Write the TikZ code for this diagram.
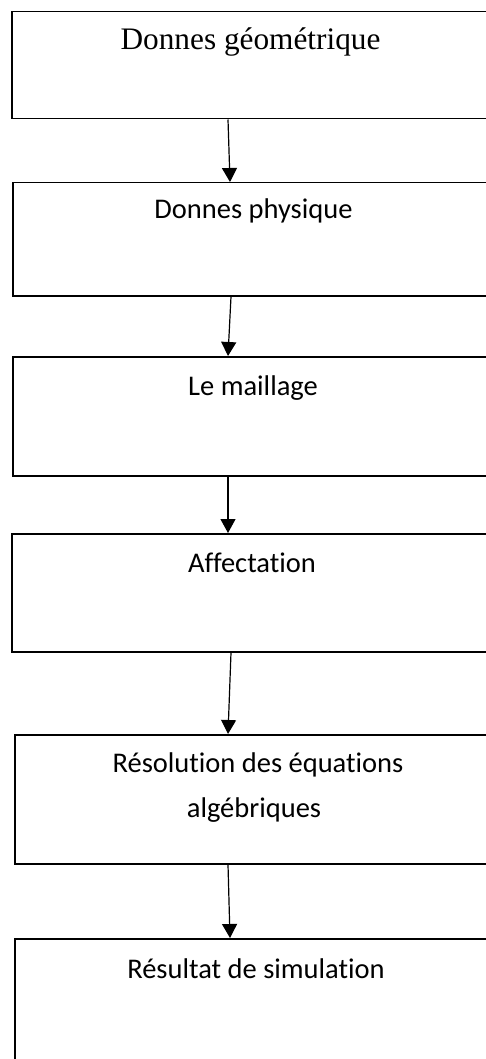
\documentclass[tikz,border=0pt]{standalone}
\usepackage{fontspec}
\setmainfont[Ligatures=NoCommon]{Liberation Serif}
\newfontfamily\calibrifont[Ligatures=NoCommon]{Carlito}
\usetikzlibrary{arrows.meta,calc}
\begin{document}
\begin{tikzpicture}[x=1pt,y=1pt,
  stepbox/.style={draw, line width=1.5pt, rectangle, anchor=north west, inner sep=0pt, minimum width=530pt},
  lbl/.style={anchor=base, inner sep=0pt, font=\calibrifont\fontsize{28.5}{34}\selectfont},
  serlbl/.style={anchor=base, inner sep=0pt, font=\fontsize{31.3}{37}\selectfont},
  arr/.style={line width=1.2pt, -{Triangle[length=14pt,width=15pt]}}]
\useasboundingbox (0,0) rectangle (486,-1059);
\clip (0,0) rectangle (486,-1059);
% boxes
\node[stepbox, minimum height=107pt] (b1) at (11,-11) {};
\node[stepbox, minimum height=113pt] (b2) at (12,-182) {};
\node[stepbox, minimum height=119pt] (b3) at (12,-356) {};
\node[stepbox, minimum height=118pt] (b4) at (11,-533) {};
\node[stepbox, minimum height=129pt] (b5) at (14,-734) {};
\node[stepbox, minimum height=140pt] (b6) at (14,-938) {};
% labels
\node[serlbl] (t1) at (250.5,-50) {Donnes géométrique};
\node[lbl] (t2) at (253.5,-219) {Donnes physique};
\node[lbl] (t3) at (253,-395) {Le maillage};
\node[lbl] (t4) at (252,-572) {Affectation};
\node[lbl] (t5a) at (258,-772) {Résolution des équations};
\node[lbl] (t5b) at (254,-817) {algébriques};
\node[lbl] (t6) at (256,-978) {Résultat de simulation};
% connectors
\draw[arr] ($(b1.south west)+(217,0)$) -- ($(b2.north west)+(218,0)$);
\draw[arr] ($(b2.south west)+(219,0)$) -- ($(b3.north west)+(216,0)$);
\draw[arr] ($(b3.south west)+(216,0)$) -- ($(b4.north west)+(217,0)$);
\draw[arr] ($(b4.south west)+(220,0)$) -- ($(b5.north west)+(214,0)$);
\draw[arr] ($(b5.south west)+(214,0)$) -- ($(b6.north west)+(216,0)$);
\end{tikzpicture}
\end{document}
